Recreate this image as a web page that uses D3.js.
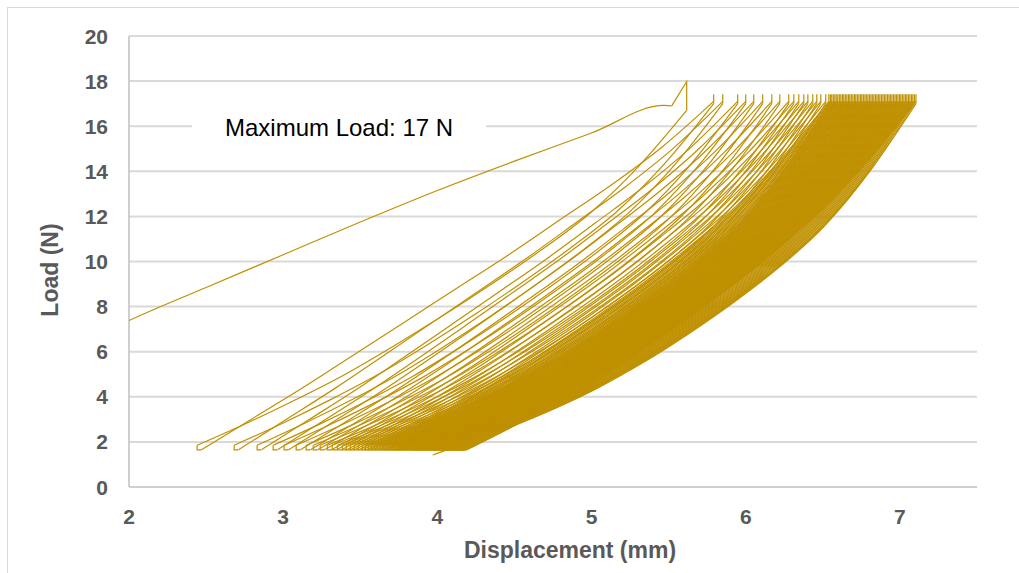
<!DOCTYPE html>
<html lang="en">
<head>
<meta charset="utf-8">
<title>Load vs Displacement</title>
<script src="https://cdn.jsdelivr.net/npm/d3@7"></script>
<style>
  body { margin: 0; background: #fff; }
  .grid line { stroke: #d9d9d9; stroke-width: 2px; }
  .tick-label { font-family: "Liberation Sans", Arial, sans-serif; font-weight: bold; font-size: 21px; fill: #595959; }
  .axis-title { font-family: "Liberation Sans", Arial, sans-serif; font-weight: bold; font-size: 23px; fill: #595959; }
  .cyc { fill: none; stroke: #bf9000; stroke-width: 1.2px; }
</style>
</head>
<body>
<script>
// tick labels
var xTicks = [2, 3, 4, 5, 6, 7];
var yTicks = [0, 2, 4, 6, 8, 10, 12, 14, 16, 18, 20];

// first (monotonic) loading curve
var firstLoadX = [1.95, 2.0, 2.5, 3.0, 3.5, 4.0, 4.5, 5.0, 5.47, 5.52];
var firstLoadY = [7.22, 7.38, 8.85, 10.3, 11.75, 13.15, 14.45, 15.7, 16.92, 16.9];
var firstPeak = { x: 5.617, top: 17.98, drop: 16.7 };

// valley (min load) displacement of each cycle
var valleyX = [2.442, 2.682, 2.831, 2.935, 3.006, 3.084, 3.149, 3.195, 3.240, 3.286,
  3.318, 3.351, 3.383, 3.409, 3.435, 3.461, 3.487, 3.513, 3.532, 3.552,
  3.571, 3.591, 3.610, 3.630, 3.646, 3.662, 3.679, 3.695, 3.708, 3.721,
  3.734, 3.747, 3.760, 3.773, 3.786, 3.799, 3.812, 3.825, 3.834, 3.844,
  3.854, 3.864, 3.873, 3.883, 3.893, 3.903, 3.912, 3.922, 3.932, 3.942,
  3.950, 3.958, 3.968, 3.976, 3.984, 3.994, 4.002, 4.010, 4.019, 4.028,
  4.036, 4.045, 4.054, 4.062, 4.071, 4.080, 4.088, 4.097, 4.106, 4.114,
  4.123, 4.131, 4.140, 4.149, 4.156, 4.162];

// peak (max load) displacement of each cycle
var peakX = [5.792, 5.851, 5.948, 6.000, 6.052, 6.110, 6.169, 6.221, 6.279, 6.312,
  6.344, 6.377, 6.403, 6.435, 6.461, 6.487, 6.519, 6.539, 6.549, 6.558,
  6.568, 6.578, 6.587, 6.597, 6.607, 6.617, 6.627, 6.636, 6.646, 6.656,
  6.666, 6.675, 6.685, 6.695, 6.705, 6.714, 6.724, 6.734, 6.744, 6.753,
  6.763, 6.773, 6.782, 6.792, 6.802, 6.812, 6.821, 6.831, 6.841, 6.851,
  6.860, 6.870, 6.880, 6.890, 6.899, 6.909, 6.919, 6.929, 6.938, 6.948,
  6.958, 6.968, 6.977, 6.987, 6.997, 7.006, 7.016, 7.026, 7.036, 7.045,
  7.055, 7.065, 7.075, 7.084, 7.094, 7.104];

// end of the last unloading
var lastEnd = { x: 3.97, y: 1.42 };

// load levels
var valleyLoad = 1.65, valleyTop = 1.85, peakLoad = 17.1, peakTop = 17.42, peakDrop = 17.0;
var footWidth = 0.028;

// normalised curve shapes (fraction of stroke vs fraction of load range)
var shapeT = [0, 0.1, 0.2, 0.3, 0.4, 0.5, 0.6, 0.7, 0.8, 0.9, 1];
var loadEarly = [0, 0.09, 0.18, 0.275, 0.37, 0.465, 0.56, 0.66, 0.76, 0.87, 1];
var loadLate = [0, 0.065, 0.135, 0.21, 0.295, 0.385, 0.48, 0.585, 0.7, 0.84, 1];
var unloadEarly = [0, 0.065, 0.135, 0.21, 0.295, 0.385, 0.48, 0.58, 0.69, 0.83, 1];
var unloadLate = [0, 0.05, 0.105, 0.168, 0.242, 0.326, 0.418, 0.52, 0.64, 0.8, 1];

var W = 1019, H = 573;
var margin = { left: 129, right: 1019 - 977, top: 36, bottom: 573 - 487 };

var svg = d3.select("body").append("svg").attr("width", W).attr("height", H);

svg.append("rect")
  .attr("x", 7.5).attr("y", 7.5)
  .attr("width", W).attr("height", H)
  .attr("fill", "#fff").attr("stroke", "#d9d9d9").attr("stroke-width", 1);

var x = d3.scaleLinear().domain([2, 7.5]).range([margin.left, W - margin.right]);
var y = d3.scaleLinear().domain([0, 20]).range([H - margin.bottom, margin.top]);

// gridlines
svg.append("g").attr("class", "grid")
  .selectAll("line").data(yTicks.slice(1)).enter().append("line")
  .attr("x1", x(2)).attr("x2", x(7.5))
  .attr("y1", function(d){ return y(d); }).attr("y2", function(d){ return y(d); });

// axes lines
svg.append("line").attr("x1", x(2)).attr("x2", x(2)).attr("y1", y(0)).attr("y2", y(20))
  .attr("stroke", "#bfbfbf").attr("stroke-width", 1.5);
svg.append("line").attr("x1", x(2)).attr("x2", x(7.5)).attr("y1", y(0)).attr("y2", y(0))
  .attr("stroke", "#bfbfbf").attr("stroke-width", 1.5);

// tick labels
svg.append("g").selectAll("text").data(yTicks).enter().append("text")
  .attr("class", "tick-label")
  .attr("x", 108).attr("y", function(d){ return y(d); })
  .attr("dy", "0.36em").attr("text-anchor", "end")
  .text(function(d){ return d; });

svg.append("g").selectAll("text").data(xTicks).enter().append("text")
  .attr("class", "tick-label")
  .attr("x", function(d){ return x(d); }).attr("y", 516)
  .attr("dy", "0.36em").attr("text-anchor", "middle")
  .text(function(d){ return d; });

svg.append("text").attr("class", "axis-title")
  .attr("x", 570).attr("y", 550).attr("dy", "0.36em")
  .attr("text-anchor", "middle").text("Displacement (mm)");

svg.append("text").attr("class", "axis-title")
  .attr("transform", "translate(50,270) rotate(-90)")
  .attr("dy", "0.36em").attr("text-anchor", "middle").text("Load (N)");

// plot clip
svg.append("clipPath").attr("id", "plot")
  .append("rect").attr("x", x(2)).attr("y", 0).attr("width", x(7.5) - x(2)).attr("height", y(0));

var plot = svg.append("g").attr("clip-path", "url(#plot)");

var smooth = d3.line().x(function(d){ return x(d[0]); }).y(function(d){ return y(d[1]); })
  .curve(d3.curveMonotoneX);
var straight = d3.line().x(function(d){ return x(d[0]); }).y(function(d){ return y(d[1]); });

function knots(x0, y0, x1, y1, early, late, w) {
  return shapeT.map(function(t, k){
    var f = early[k] * (1 - w) + late[k] * w;
    return [x0 + t * (x1 - x0), y0 + f * (y1 - y0)];
  });
}

// first loading + spike
plot.append("path").attr("class", "cyc")
  .attr("d", smooth(firstLoadX.map(function(v, i){ return [v, firstLoadY[i]]; })));
plot.append("path").attr("class", "cyc")
  .attr("d", straight([[firstLoadX[firstLoadX.length - 1], firstLoadY[firstLoadY.length - 1]],
    [firstPeak.x, firstPeak.top], [firstPeak.x, firstPeak.drop]]));

var n = valleyX.length;
for (var i = 0; i < n; i++) {
  var w = Math.min(1, i / 15);
  var prevX = i === 0 ? firstPeak.x : peakX[i - 1];
  var prevTop = i === 0 ? firstPeak.drop : peakDrop;
  // unloading into this valley
  plot.append("path").attr("class", "cyc")
    .attr("d", smooth(knots(valleyX[i], valleyTop, prevX, prevTop, unloadEarly, unloadLate, w)));
  // valley foot
  plot.append("path").attr("class", "cyc")
    .attr("d", straight([[valleyX[i], valleyTop], [valleyX[i], valleyLoad], [valleyX[i] + footWidth, valleyLoad]]));
  // reloading to this peak
  plot.append("path").attr("class", "cyc")
    .attr("d", smooth(knots(valleyX[i] + footWidth, valleyLoad, peakX[i], peakLoad, loadEarly, loadLate, w)));
  // peak spike
  plot.append("path").attr("class", "cyc")
    .attr("d", straight([[peakX[i], peakLoad], [peakX[i], peakTop], [peakX[i], peakDrop]]));
}
// final unloading
plot.append("path").attr("class", "cyc")
  .attr("d", smooth(knots(lastEnd.x, lastEnd.y, peakX[n - 1], peakDrop, unloadLate, unloadLate, 1)));

// annotation with white backing
svg.append("rect").attr("x", 192).attr("y", 110).attr("width", 294).attr("height", 32).attr("fill", "#fff");
svg.append("text")
  .attr("x", 225).attr("y", 127).attr("dy", "0.36em")
  .style("font-family", "'Liberation Sans', Arial, sans-serif").style("font-size", "24px").style("fill", "#000")
  .text("Maximum Load: 17 N");
</script>
</body>
</html>
